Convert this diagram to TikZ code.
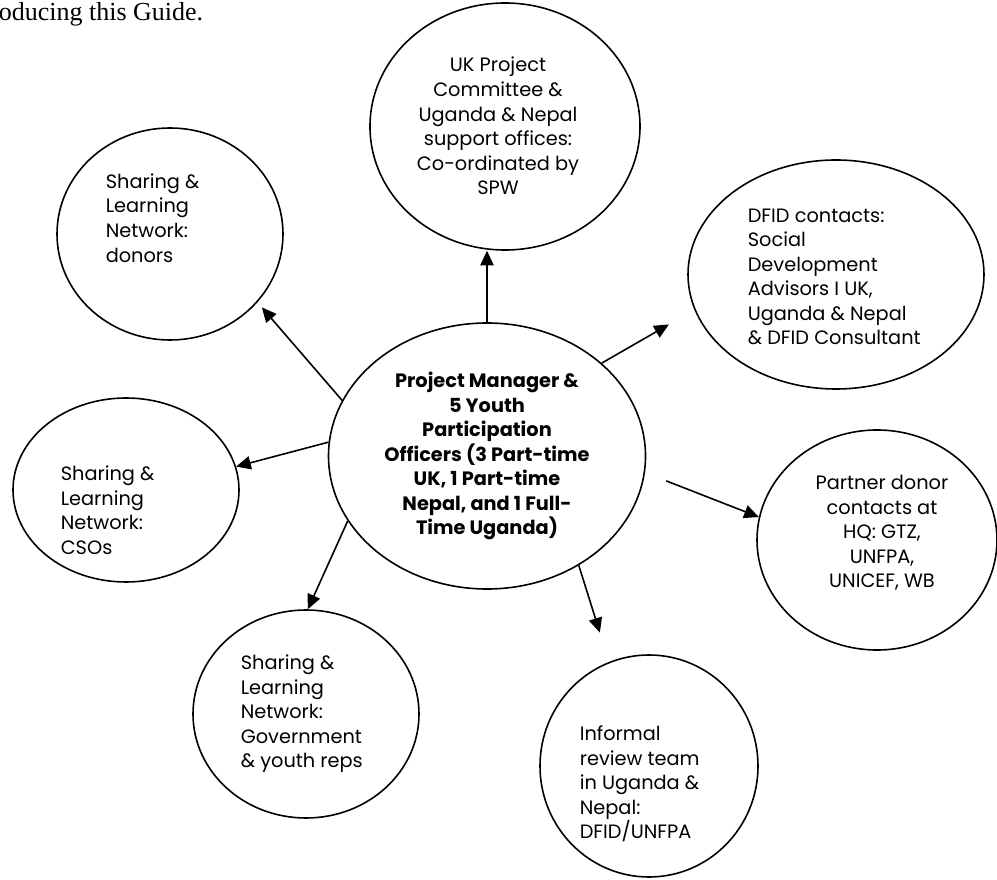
\documentclass[tikz,border=0pt]{standalone}
\usepackage{fontspec}
\setmainfont{Liberation Serif}
\newfontfamily\gothic{Poppins}
\usetikzlibrary{shapes.geometric,arrows.meta}

\begin{document}
\begin{tikzpicture}[x=0.75pt, y=-0.75pt, line width=1.2pt, line join=round,
    >={Triangle[length=11pt,width=10pt]},
    bubble/.style 2 args={draw, ellipse, inner sep=0pt, minimum width=#1*0.75pt, minimum height=#2*0.75pt},
    txt/.style={font=\gothic\fontsize{14.5}{18.4}\selectfont, inner sep=0pt, align=left, anchor=west},
    ctxt/.style={txt, align=center, anchor=center}]
    \useasboundingbox (0,0) rectangle (997,880);
    \node[anchor=base west, inner sep=0pt, font=\fontsize{19.5}{23}\selectfont] (guide) at (-2,21) {oducing this Guide.};
    % ellipses
    \node[bubble={317}{266}] (ctr) at (487,456) {};
    \node[bubble={270}{247}] (uk) at (505,126.5) {};
    \node[bubble={226}{212}] (donors) at (170,234) {};
    \node[bubble={226}{184}] (csos) at (126,490) {};
    \node[bubble={226}{208}] (gov) at (306,714) {};
    \node[bubble={218}{222}] (review) at (649,766) {};
    \node[bubble={240}{220}] (partner) at (877,540) {};
    \node[bubble={296}{229}] (dfid) at (836,274.5) {};
    % texts
    \node[ctxt, font=\gothic\bfseries\fontsize{14.5}{18.4}\selectfont] (ctrTxt) at (487,456) {Project Manager \&\\5 Youth\\Participation\\Officers (3 Part-time\\UK, 1 Part-time\\Nepal, and 1 Full-\\Time Uganda)};
    \node[ctxt] (ukTxt) at (498,126) {UK Project\\Committee \&\\Uganda \& Nepal\\support offices:\\Co-ordinated by\\SPW};
    \node[txt] (donorsTxt) at (105,218) {Sharing \&\\Learning\\Network:\\donors};
    \node[txt] (csosTxt) at (60,510) {Sharing \&\\Learning\\Network:\\CSOs};
    \node[txt] (govTxt) at (240,714) {Sharing \&\\Learning\\Network:\\Government\\\& youth reps};
    \node[txt] (reviewTxt) at (579,784) {Informal\\review team\\in Uganda \&\\Nepal:\\DFID/UNFPA};
    \node[ctxt] (partnerTxt) at (882,533) {Partner donor\\contacts at\\HQ: GTZ,\\UNFPA,\\UNICEF, WB};
    \node[txt] (dfidTxt) at (747,277) {DFID contacts:\\Social\\Development\\Advisors I UK,\\Uganda \& Nepal\\\& DFID Consultant};
    % arrows
    \draw[->] (ctr.north) -- (ctr.north |- uk.south);
    \draw[->, shorten >=5pt] (ctr.159.5) -- (donors.-38.5);
    \draw[->] (ctr.175.3) -- (csos.12.5);
    \draw[->] (ctr.205) -- (gov.89);
    \draw[->, shorten >=23pt] (ctr.-50.5) -- (review.111);
    \draw[->, shorten <=17pt] (ctr.-6.7) -- (partner.169.6);
    \draw[->, shorten >=22pt] (ctr.39) -- (dfid.194.4);
\end{tikzpicture}
\end{document}
